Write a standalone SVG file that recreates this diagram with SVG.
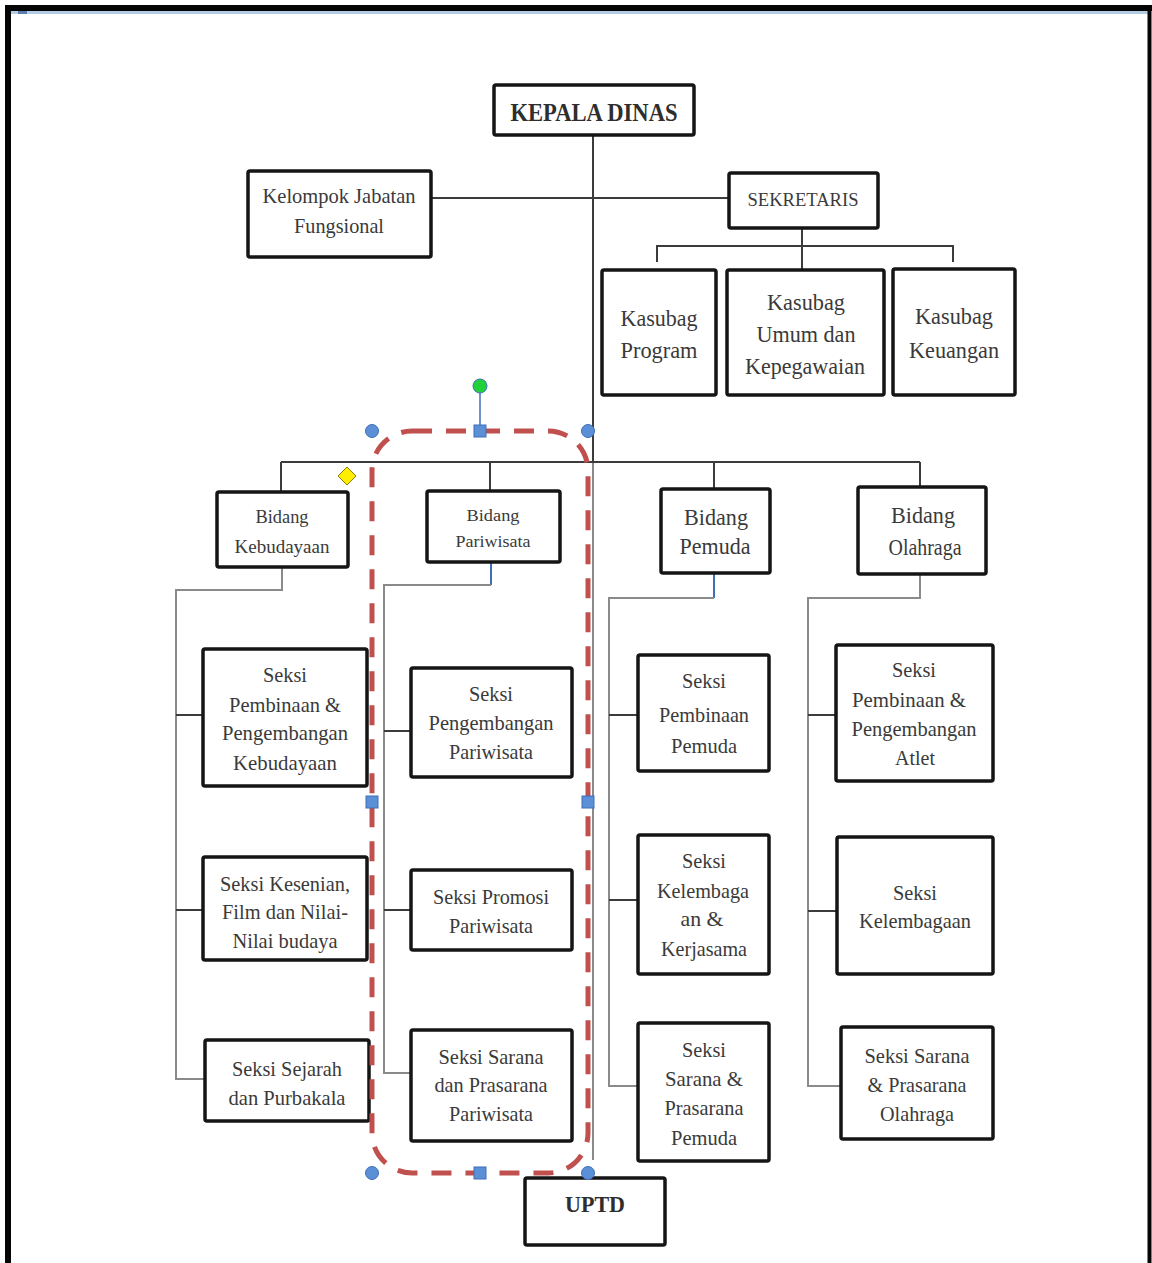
<svg xmlns="http://www.w3.org/2000/svg" width="1152" height="1263" viewBox="0 0 1152 1263">
  <style>
    .box { fill: #ffffff; stroke: #151515; stroke-width: 3.5; }
    .t { font-family: "Liberation Serif", "DejaVu Serif", serif; font-weight: normal; fill: #3a3a3a; text-anchor: middle; dominant-baseline: central; }
    .b { font-weight: bold; fill: #2e2e2e; }
    .ln { fill: none; stroke: #3c3c3c; stroke-width: 2; }
    .sub { fill: none; stroke: #8a8a8a; stroke-width: 2; }
    .blu { fill: none; stroke: #3f6fb8; stroke-width: 2; }
    .hnd { fill: #5b8fd6; stroke: #3f6fb8; stroke-width: 1; }
  </style>

  <!-- page frame -->
  <rect x="0" y="0" width="1152" height="1263" fill="#ffffff"/>
  <rect x="11" y="11" width="1137" height="3" fill="#b4cbe4"/>
  <rect x="18" y="11" width="9" height="3" fill="#5a7fa8"/>
  <line x1="5" y1="8" x2="1152" y2="8" stroke="#050505" stroke-width="6"/>
  <line x1="8" y1="5" x2="8" y2="1263" stroke="#050505" stroke-width="6"/>
  <line x1="1149.5" y1="5" x2="1149.5" y2="1263" stroke="#050505" stroke-width="4"/>

  <!-- connectors -->
  <g id="connectors">
    <line class="ln" x1="593" y1="135" x2="593" y2="462"/>
    <line class="sub" x1="593" y1="462" x2="593" y2="1160"/>
    <line class="ln" x1="431" y1="198" x2="729" y2="198"/>
    <polyline class="ln" points="657,262 657,246 953,246 953,262"/>
    <line class="ln" x1="802" y1="228" x2="802" y2="270"/>
    <line class="ln" x1="281" y1="462" x2="920" y2="462"/>
    <line class="ln" x1="281" y1="462" x2="281" y2="492"/>
    <line class="ln" x1="490" y1="462" x2="490" y2="491"/>
    <line class="ln" x1="714" y1="462" x2="714" y2="489"/>
    <line class="ln" x1="920" y1="462" x2="920" y2="487"/>

    <!-- Bidang Kebudayaan branch -->
    <polyline class="sub" points="282,567 282,590 176,590 176,1079 205,1079"/>
    <line class="ln" x1="176" y1="715" x2="203" y2="715"/>
    <line class="ln" x1="176" y1="910" x2="203" y2="910"/>
    <!-- Bidang Pariwisata branch -->
    <line class="blu" x1="491" y1="562" x2="491" y2="585"/>
    <polyline class="sub" points="491,585 384,585 384,1073 411,1073"/>
    <line class="ln" x1="384" y1="731" x2="411" y2="731"/>
    <line class="ln" x1="384" y1="910" x2="411" y2="910"/>
    <!-- Bidang Pemuda branch -->
    <line class="blu" x1="714" y1="573" x2="714" y2="598"/>
    <polyline class="sub" points="714,598 609,598 609,1086 638,1086"/>
    <line class="ln" x1="609" y1="715" x2="638" y2="715"/>
    <line class="ln" x1="609" y1="900" x2="638" y2="900"/>
    <!-- Bidang Olahraga branch -->
    <polyline class="sub" points="920,574 920,598 808,598 808,1086 841,1086"/>
    <line class="ln" x1="808" y1="715" x2="836" y2="715"/>
    <line class="ln" x1="808" y1="911" x2="837" y2="911"/>
  </g>

  <!-- top level -->
  <g id="kepala-dinas">
    <rect class="box" x="494" y="85" width="200" height="50" rx="2"/>
    <text class="t b" x="594" y="112" font-size="25" textLength="167" lengthAdjust="spacingAndGlyphs">KEPALA DINAS</text>
  </g>
  <g id="kelompok-jabatan">
    <rect class="box" x="248" y="171" width="183" height="86" rx="2"/>
    <text class="t" x="339" y="196" font-size="21" textLength="153" lengthAdjust="spacingAndGlyphs">Kelompok Jabatan</text>
    <text class="t" x="339" y="226" font-size="21" textLength="90" lengthAdjust="spacingAndGlyphs">Fungsional</text>
  </g>
  <g id="sekretaris">
    <rect class="box" x="729" y="173" width="149" height="55" rx="2"/>
    <text class="t" x="803" y="199" font-size="19" textLength="111" lengthAdjust="spacingAndGlyphs">SEKRETARIS</text>
  </g>
  <g id="kasubag-program">
    <rect class="box" x="602" y="270" width="114" height="125" rx="2"/>
    <text class="t" x="659" y="318" font-size="24" textLength="77" lengthAdjust="spacingAndGlyphs">Kasubag</text>
    <text class="t" x="659" y="350" font-size="24" textLength="77" lengthAdjust="spacingAndGlyphs">Program</text>
  </g>
  <g id="kasubag-umum">
    <rect class="box" x="727" y="270" width="157" height="125" rx="2"/>
    <text class="t" x="806" y="302" font-size="24" textLength="78" lengthAdjust="spacingAndGlyphs">Kasubag</text>
    <text class="t" x="806" y="334" font-size="24" textLength="99" lengthAdjust="spacingAndGlyphs">Umum dan</text>
    <text class="t" x="805" y="366" font-size="24" textLength="120" lengthAdjust="spacingAndGlyphs">Kepegawaian</text>
  </g>
  <g id="kasubag-keuangan">
    <rect class="box" x="893" y="269" width="122" height="126" rx="2"/>
    <text class="t" x="954" y="316" font-size="24" textLength="78" lengthAdjust="spacingAndGlyphs">Kasubag</text>
    <text class="t" x="954" y="350" font-size="24" textLength="90" lengthAdjust="spacingAndGlyphs">Keuangan</text>
  </g>

  <!-- bidang -->
  <g id="bidang-kebudayaan">
    <rect class="box" x="217" y="492" width="131" height="75" rx="2"/>
    <text class="t" x="282" y="517" font-size="18" textLength="53" lengthAdjust="spacingAndGlyphs">Bidang</text>
    <text class="t" x="282" y="547" font-size="18" textLength="95" lengthAdjust="spacingAndGlyphs">Kebudayaan</text>
  </g>
  <g id="bidang-pariwisata">
    <rect class="box" x="427" y="491" width="133" height="71" rx="2"/>
    <text class="t" x="493" y="515" font-size="17" textLength="53" lengthAdjust="spacingAndGlyphs">Bidang</text>
    <text class="t" x="493" y="541" font-size="17" textLength="75" lengthAdjust="spacingAndGlyphs">Pariwisata</text>
  </g>
  <g id="bidang-pemuda">
    <rect class="box" x="661" y="489" width="109" height="84" rx="2"/>
    <text class="t" x="716" y="517" font-size="24" textLength="64" lengthAdjust="spacingAndGlyphs">Bidang</text>
    <text class="t" x="715" y="546" font-size="24" textLength="71" lengthAdjust="spacingAndGlyphs">Pemuda</text>
  </g>
  <g id="bidang-olahraga">
    <rect class="box" x="858" y="487" width="128" height="87" rx="2"/>
    <text class="t" x="923" y="515" font-size="24" textLength="64" lengthAdjust="spacingAndGlyphs">Bidang</text>
    <text class="t" x="925" y="547" font-size="24" textLength="73" lengthAdjust="spacingAndGlyphs">Olahraga</text>
  </g>

  <!-- seksi under Bidang Kebudayaan -->
  <g id="seksi-pembinaan-kebudayaan">
    <rect class="box" x="203" y="649" width="164" height="137" rx="2"/>
    <text class="t" x="285" y="675" font-size="21" textLength="44" lengthAdjust="spacingAndGlyphs">Seksi</text>
    <text class="t" x="285" y="705" font-size="21" textLength="112" lengthAdjust="spacingAndGlyphs">Pembinaan &amp;</text>
    <text class="t" x="285" y="733" font-size="21" textLength="126" lengthAdjust="spacingAndGlyphs">Pengembangan</text>
    <text class="t" x="285" y="763" font-size="21" textLength="104" lengthAdjust="spacingAndGlyphs">Kebudayaan</text>
  </g>
  <g id="seksi-kesenian">
    <rect class="box" x="203" y="857" width="164" height="103" rx="2"/>
    <text class="t" x="285" y="884" font-size="21" textLength="130" lengthAdjust="spacingAndGlyphs">Seksi Kesenian,</text>
    <text class="t" x="285" y="912" font-size="21" textLength="126" lengthAdjust="spacingAndGlyphs">Film dan Nilai-</text>
    <text class="t" x="285" y="941" font-size="21" textLength="105" lengthAdjust="spacingAndGlyphs">Nilai budaya</text>
  </g>
  <g id="seksi-sejarah">
    <rect class="box" x="205" y="1040" width="164" height="81" rx="2"/>
    <text class="t" x="287" y="1069" font-size="21" textLength="110" lengthAdjust="spacingAndGlyphs">Seksi Sejarah</text>
    <text class="t" x="287" y="1098" font-size="21" textLength="117" lengthAdjust="spacingAndGlyphs">dan Purbakala</text>
  </g>

  <!-- seksi under Bidang Pariwisata -->
  <g id="seksi-pengembangan-pariwisata">
    <rect class="box" x="411" y="668" width="161" height="109" rx="2"/>
    <text class="t" x="491" y="694" font-size="21" textLength="44" lengthAdjust="spacingAndGlyphs">Seksi</text>
    <text class="t" x="491" y="723" font-size="21" textLength="125" lengthAdjust="spacingAndGlyphs">Pengembangan</text>
    <text class="t" x="491" y="752" font-size="21" textLength="84" lengthAdjust="spacingAndGlyphs">Pariwisata</text>
  </g>
  <g id="seksi-promosi">
    <rect class="box" x="411" y="870" width="161" height="80" rx="2"/>
    <text class="t" x="491" y="897" font-size="21" textLength="116" lengthAdjust="spacingAndGlyphs">Seksi Promosi</text>
    <text class="t" x="491" y="926" font-size="21" textLength="84" lengthAdjust="spacingAndGlyphs">Pariwisata</text>
  </g>
  <g id="seksi-sarana-pariwisata">
    <rect class="box" x="411" y="1030" width="161" height="111" rx="2"/>
    <text class="t" x="491" y="1057" font-size="21" textLength="105" lengthAdjust="spacingAndGlyphs">Seksi Sarana</text>
    <text class="t" x="491" y="1085" font-size="21" textLength="113" lengthAdjust="spacingAndGlyphs">dan Prasarana</text>
    <text class="t" x="491" y="1114" font-size="21" textLength="84" lengthAdjust="spacingAndGlyphs">Pariwisata</text>
  </g>

  <!-- seksi under Bidang Pemuda -->
  <g id="seksi-pembinaan-pemuda">
    <rect class="box" x="638" y="655" width="131" height="116" rx="2"/>
    <text class="t" x="704" y="681" font-size="21" textLength="44" lengthAdjust="spacingAndGlyphs">Seksi</text>
    <text class="t" x="704" y="715" font-size="21" textLength="90" lengthAdjust="spacingAndGlyphs">Pembinaan</text>
    <text class="t" x="704" y="746" font-size="21" textLength="66" lengthAdjust="spacingAndGlyphs">Pemuda</text>
  </g>
  <g id="seksi-kelembagaan-kerjasama">
    <rect class="box" x="638" y="835" width="131" height="139" rx="2"/>
    <text class="t" x="704" y="861" font-size="21" textLength="44" lengthAdjust="spacingAndGlyphs">Seksi</text>
    <text class="t" x="703" y="891" font-size="21" textLength="92" lengthAdjust="spacingAndGlyphs">Kelembaga</text>
    <text class="t" x="702" y="919" font-size="21" textLength="43" lengthAdjust="spacingAndGlyphs">an &amp;</text>
    <text class="t" x="704" y="949" font-size="21" textLength="86" lengthAdjust="spacingAndGlyphs">Kerjasama</text>
  </g>
  <g id="seksi-sarana-pemuda">
    <rect class="box" x="638" y="1023" width="131" height="138" rx="2"/>
    <text class="t" x="704" y="1050" font-size="21" textLength="44" lengthAdjust="spacingAndGlyphs">Seksi</text>
    <text class="t" x="704" y="1079" font-size="21" textLength="78" lengthAdjust="spacingAndGlyphs">Sarana &amp;</text>
    <text class="t" x="704" y="1108" font-size="21" textLength="79" lengthAdjust="spacingAndGlyphs">Prasarana</text>
    <text class="t" x="704" y="1138" font-size="21" textLength="66" lengthAdjust="spacingAndGlyphs">Pemuda</text>
  </g>

  <!-- seksi under Bidang Olahraga -->
  <g id="seksi-pembinaan-atlet">
    <rect class="box" x="836" y="645" width="157" height="136" rx="2"/>
    <text class="t" x="914" y="670" font-size="21" textLength="44" lengthAdjust="spacingAndGlyphs">Seksi</text>
    <text class="t" x="909" y="700" font-size="21" textLength="114" lengthAdjust="spacingAndGlyphs">Pembinaan &amp;</text>
    <text class="t" x="914" y="729" font-size="21" textLength="125" lengthAdjust="spacingAndGlyphs">Pengembangan</text>
    <text class="t" x="915" y="758" font-size="21" textLength="40" lengthAdjust="spacingAndGlyphs">Atlet</text>
  </g>
  <g id="seksi-kelembagaan">
    <rect class="box" x="837" y="837" width="156" height="137" rx="2"/>
    <text class="t" x="915" y="893" font-size="21" textLength="44" lengthAdjust="spacingAndGlyphs">Seksi</text>
    <text class="t" x="915" y="921" font-size="21" textLength="112" lengthAdjust="spacingAndGlyphs">Kelembagaan</text>
  </g>
  <g id="seksi-sarana-olahraga">
    <rect class="box" x="841" y="1027" width="152" height="112" rx="2"/>
    <text class="t" x="917" y="1056" font-size="21" textLength="105" lengthAdjust="spacingAndGlyphs">Seksi Sarana</text>
    <text class="t" x="917" y="1085" font-size="21" textLength="99" lengthAdjust="spacingAndGlyphs">&amp; Prasarana</text>
    <text class="t" x="917" y="1114" font-size="21" textLength="74" lengthAdjust="spacingAndGlyphs">Olahraga</text>
  </g>

  <g id="uptd">
    <rect class="box" x="525" y="1178" width="140" height="67" rx="2"/>
    <text class="t b" x="595" y="1204" font-size="24" textLength="60" lengthAdjust="spacingAndGlyphs">UPTD</text>
  </g>

  <!-- selected dashed outline with its handles -->
  <g id="selection">
    <rect x="372" y="431" width="216" height="742" rx="40" fill="none" stroke="#c0504d" stroke-width="5" stroke-dasharray="20 14"/>
    <line x1="480" y1="393" x2="480" y2="426" stroke="#3f6fb8" stroke-width="1.5"/>
    <circle cx="480" cy="386" r="7" fill="#1fd23a" stroke="#3f6fb8" stroke-width="1"/>
    <circle class="hnd" cx="372" cy="431" r="6.5"/>
    <circle class="hnd" cx="588" cy="431" r="6.5"/>
    <circle class="hnd" cx="372" cy="1173" r="6.5"/>
    <circle class="hnd" cx="588" cy="1173" r="6.5"/>
    <rect class="hnd" x="474" y="425" width="12" height="12"/>
    <rect class="hnd" x="474" y="1167" width="12" height="12"/>
    <rect class="hnd" x="366" y="796" width="12" height="12"/>
    <rect class="hnd" x="582" y="796" width="12" height="12"/>
    <polygon points="347,467 356,476 347,485 338,476" fill="#ffee00" stroke="#8a7a00" stroke-width="1"/>
  </g>
</svg>
